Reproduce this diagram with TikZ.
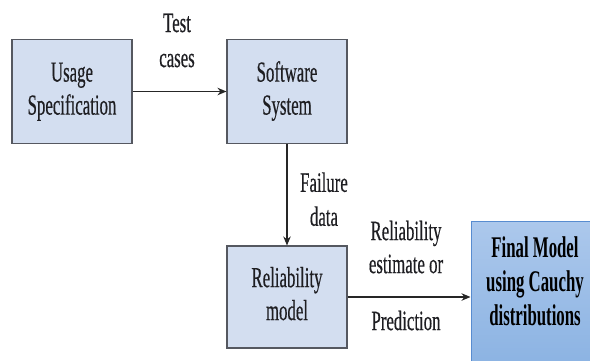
\documentclass[tikz,border=0pt]{standalone}
\usepackage{fontspec}
\setmainfont{Liberation Serif}
\newfontfamily\heavyserif{Liberation Serif}[FakeBold=0.6]
\usetikzlibrary{arrows.meta}
\definecolor{boxfill}{RGB}{211,222,240}
\definecolor{boxline}{RGB}{85,88,96}
\definecolor{finaltop}{RGB}{172,200,236}
\definecolor{finalbot}{RGB}{138,178,226}
\definecolor{finalline}{RGB}{88,140,208}
\definecolor{inktext}{RGB}{30,30,34}
\newcommand{\narrowtext}[2]{\scalebox{#1}[1]{\begin{tabular}{@{}c@{}}#2\end{tabular}}}
\begin{document}
\begin{tikzpicture}[x=1pt,y=-1pt,
  procbox/.style={draw=boxline, fill=boxfill, line width=1.1pt, minimum width=120pt,
    minimum height=104pt, inner sep=0pt, text=inktext, font=\heavyserif\fontsize{29}{33}\selectfont},
  lbl/.style={inner sep=0pt, text=inktext},
  flow/.style={draw=black!85, line width=1.2pt, -{Stealth[length=9pt,width=7.5pt]}}]
\useasboundingbox (0,0) rectangle (590,360);
\node[procbox] (usage) at (72,91.5) {\narrowtext{0.58}{Usage\\Specification}};
\node[procbox] (soft) at (287,91.5) {\narrowtext{0.58}{Software\\System}};
\node[procbox, minimum height=102pt] (rel) at (287,297) {\narrowtext{0.58}{Reliability\\model}};
\node[draw=finalline, line width=1pt, top color=finaltop, bottom color=finalbot,
  minimum width=129pt, minimum height=151pt, inner sep=0pt] (fin) at (535.5,296.5) {};
\node[inner sep=0pt, text=black, font=\bfseries\fontsize{30}{34}\selectfont]
  (fintext) at (535,285) {\narrowtext{0.56}{Final Model\\using Cauchy\\distributions}};
\node[lbl, font=\heavyserif\fontsize{28}{35}\selectfont] (ltest) at (177,42.5) {\narrowtext{0.6}{Test\\cases}};
\node[lbl, font=\heavyserif\fontsize{28}{34}\selectfont] (lfail) at (324,202) {\narrowtext{0.6}{Failure\\data}};
\node[lbl, font=\heavyserif\fontsize{28}{33}\selectfont] (lrel) at (406,250) {\narrowtext{0.6}{Reliability\\estimate or}};
\node[lbl, font=\heavyserif\fontsize{28}{33}\selectfont] (lpred) at (406,323.5) {\narrowtext{0.6}{Prediction}};
\draw[flow] (usage.east) -- (usage.east -| soft.west);
\draw[flow] (soft.south) -- (rel.north);
\draw[flow] (rel.east) -- (rel.east -| fin.west);
\end{tikzpicture}
\end{document}
